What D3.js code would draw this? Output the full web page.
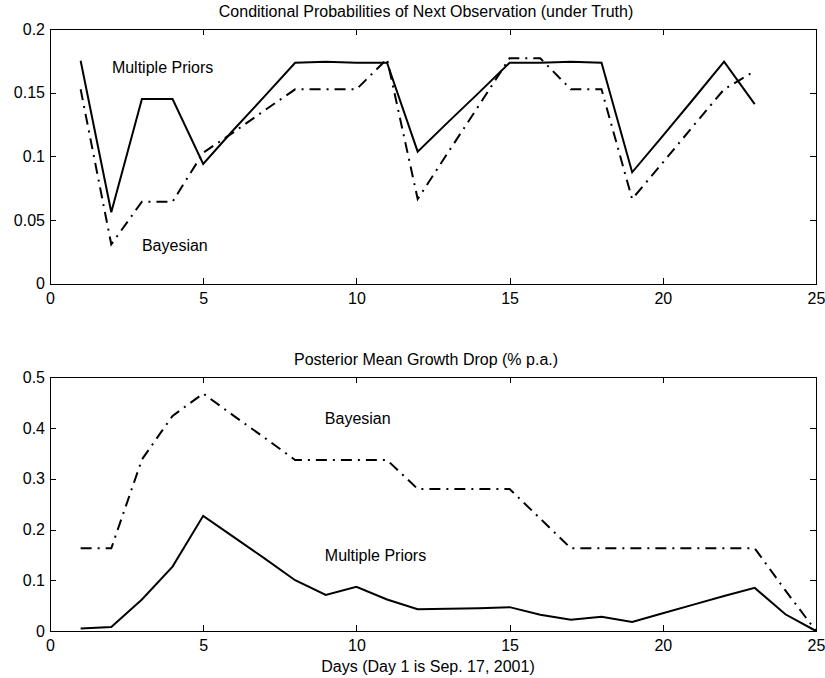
<!DOCTYPE html>
<html>
<head>
<meta charset="utf-8">
<script src="https://cdn.jsdelivr.net/npm/d3@7"></script>
<style>
  body { margin: 0; background: #fff; }
  text { font-family: "Liberation Sans", Arial, sans-serif; fill: #000; }
  .axis path, .axis line { stroke: #000; stroke-width: 1; shape-rendering: crispEdges; }
  .axis text { font-size: 16px; }
  .title { font-size: 16px; }
  .label { font-size: 16px; }
  .mp { fill: none; stroke: #000; stroke-width: 2; stroke-linejoin: miter; }
  .bay { fill: none; stroke: #000; stroke-width: 2; stroke-dasharray: 11,6,2,6; }
</style>
</head>
<body>
<div id="chart"></div>
<script>
// top panel: conditional probabilities, days 1..23
var probDays = d3.range(1, 24);
var probMultiple = [0.175, 0.056, 0.145, 0.145, 0.094, 0.121, 0.147, 0.1735, 0.1743, 0.1735,
  0.1735, 0.1036, 0.127, 0.150, 0.1735, 0.1735, 0.1743, 0.1735, 0.0874, 0.116,
  0.145, 0.1743, 0.141];
var probBayes = [0.1526, 0.0308, 0.0643, 0.0643, 0.1028, 0.119, 0.136, 0.1526, 0.1526, 0.1526,
  0.1764, 0.0664, 0.1033, 0.140, 0.177, 0.177, 0.1526, 0.1526, 0.0664, 0.095,
  0.124, 0.1526, 0.167];
var probTicks = [0, 0.05, 0.1, 0.15, 0.2];

// bottom panel: posterior mean growth drop, days 1..25
var dropDays = d3.range(1, 26);
var dropMultiple = [0.005, 0.008, 0.062, 0.127, 0.227, 0.185, 0.143, 0.100, 0.071, 0.087,
  0.062, 0.043, 0.044, 0.045, 0.047, 0.032, 0.022, 0.028, 0.018, 0.035,
  0.052, 0.069, 0.085, 0.033, 0];
var dropBayes = [0.163, 0.163, 0.338, 0.424, 0.468, 0.424, 0.381, 0.337, 0.337, 0.337,
  0.337, 0.280, 0.280, 0.280, 0.280, 0.2215, 0.163, 0.163, 0.163, 0.163,
  0.163, 0.163, 0.163, 0.08, 0];
var dropTicks = [0, 0.1, 0.2, 0.3, 0.4, 0.5];

var dayTicks = [0, 5, 10, 15, 20, 25];

var _width = 825, _height = 678;

var svg = d3.select("#chart").append("svg")
    .attr("width", _width)
    .attr("height", _height);

svg.append("rect")
    .attr("width", _width)
    .attr("height", _height)
    .attr("fill", "#fff");

function fmt(d) {
  return String(+d.toFixed(2));
}

function panel(opts) {
  var x = d3.scaleLinear().domain([0, 25]).range([50, 816]);
  var y = d3.scaleLinear().domain(opts.yDomain).range([opts.bottom, opts.top]);

  var g = svg.append("g");

  g.append("g").attr("class", "axis")
      .attr("transform", "translate(0," + opts.bottom + ")")
      .call(d3.axisBottom(x).tickValues(dayTicks).tickSizeInner(-6).tickSizeOuter(0)
        .tickPadding(9).tickFormat(d3.format("d")));
  g.append("g").attr("class", "axis")
      .attr("transform", "translate(0," + opts.top + ")")
      .call(d3.axisTop(x).tickValues(dayTicks).tickSizeInner(-6).tickSizeOuter(0)
        .tickFormat(""));
  g.append("g").attr("class", "axis")
      .attr("transform", "translate(50,0)")
      .call(d3.axisLeft(y).tickValues(opts.yTicks).tickSizeInner(-6).tickSizeOuter(0)
        .tickPadding(5).tickFormat(fmt));
  g.append("g").attr("class", "axis")
      .attr("transform", "translate(816,0)")
      .call(d3.axisRight(y).tickValues(opts.yTicks).tickSizeInner(-6).tickSizeOuter(0)
        .tickFormat(""));

  var line = d3.line()
      .x(function (d, i) { return x(opts.days[i]); })
      .y(function (d) { return y(d); });

  g.append("path").attr("class", "mp").attr("d", line(opts.multiple));
  g.append("path").attr("class", "bay").attr("d", line(opts.bayes));

  g.append("text").attr("class", "title")
      .attr("x", 426).attr("y", opts.top - 12.5)
      .attr("text-anchor", "middle")
      .text(opts.title);

  opts.labels.forEach(function (l) {
    g.append("text").attr("class", "label")
        .attr("x", x(l.day)).attr("y", y(l.value))
        .attr("dy", "0.35em")
        .text(l.text);
  });

  return { x: x, y: y };
}

panel({
  top: 29, bottom: 283.5,
  yDomain: [0, 0.2], yTicks: probTicks,
  days: probDays, multiple: probMultiple, bayes: probBayes,
  title: "Conditional Probabilities of Next Observation (under Truth)",
  labels: [
    { text: "Multiple Priors", day: 2.02, value: 0.1696 },
    { text: "Bayesian", day: 3.0, value: 0.0297 }
  ]
});

panel({
  top: 377.3, bottom: 631,
  yDomain: [0, 0.5], yTicks: dropTicks,
  days: dropDays, multiple: dropMultiple, bayes: dropBayes,
  title: "Posterior Mean Growth Drop (% p.a.)",
  labels: [
    { text: "Bayesian", day: 8.97, value: 0.4185 },
    { text: "Multiple Priors", day: 8.97, value: 0.1484 }
  ]
});

svg.append("text").attr("class", "title")
    .attr("x", 428).attr("y", 672)
    .attr("text-anchor", "middle")
    .text("Days (Day 1 is Sep. 17, 2001)");
</script>
</body>
</html>
